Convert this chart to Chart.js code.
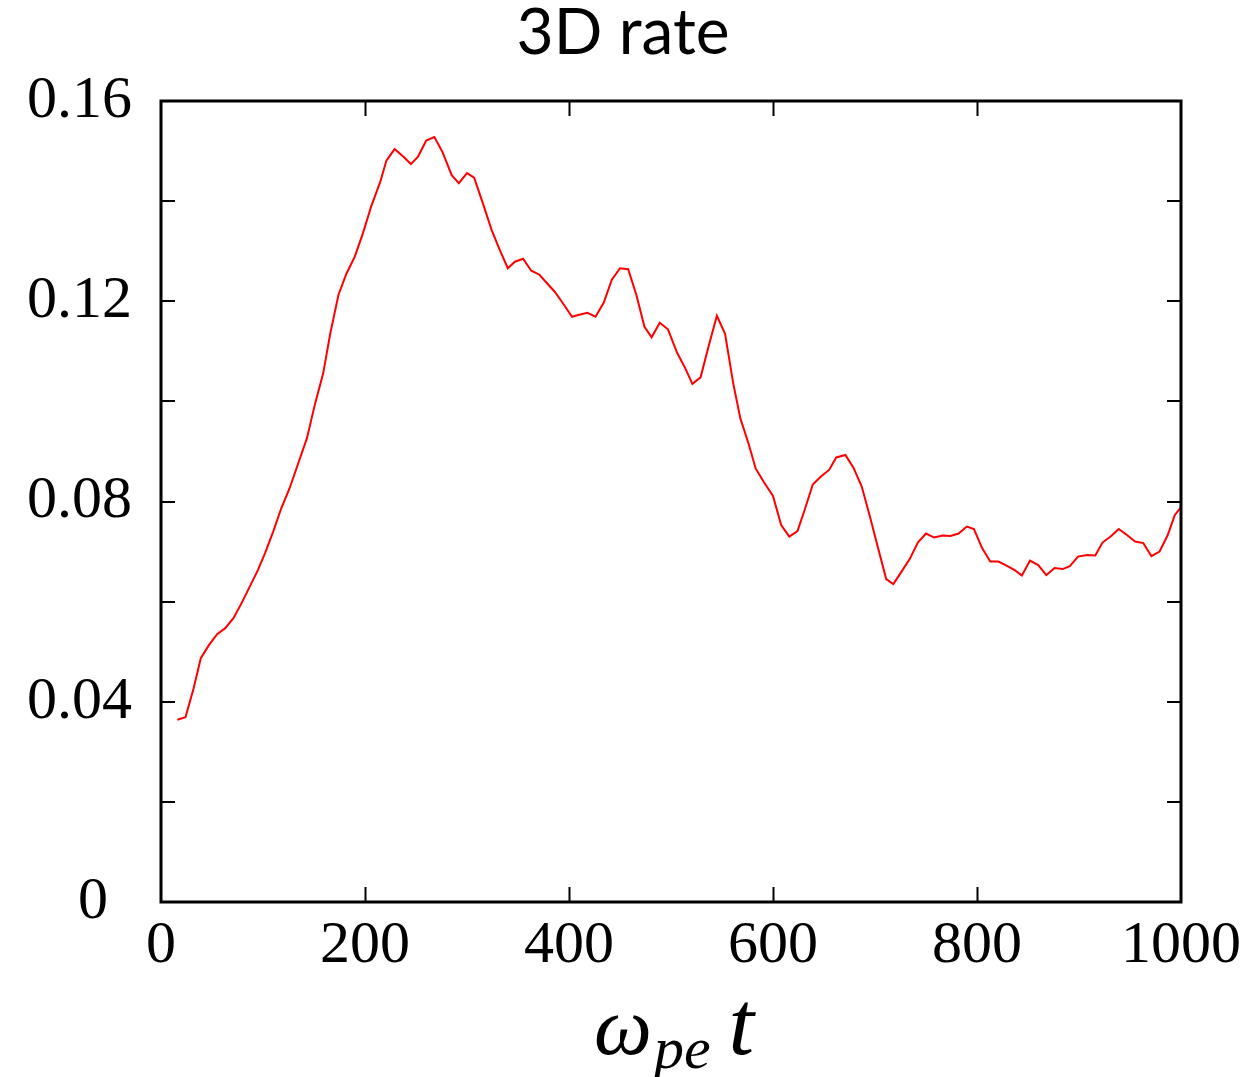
<!DOCTYPE html>
<html>
<head>
<meta charset="utf-8">
<title>3D rate</title>
<script src="https://cdn.jsdelivr.net/npm/chart.js@4.4.1/dist/chart.umd.min.js"></script>
<style>
  html, body { margin: 0; padding: 0; background: #fff; }
  #wrap { position: relative; width: 1255px; height: 1077px; overflow: hidden; }
  #rate-chart { position: absolute; left: 0; top: 0; }
  #chart-title {
    position: absolute; left: 0; top: -2px; width: 1246px; text-align: center;
    font-family: Lato, "Open Sans", sans-serif; font-size: 64px; line-height: 1;
    white-space: nowrap; color: #000;
  }
  #x-title {
    position: absolute; left: 594px; top: 977px;
    font-family: "Liberation Serif", "DejaVu Serif", serif;
    font-style: italic; font-size: 82px; line-height: 1;
    white-space: nowrap; color: #000;
  }
  #x-title .sub { font-size: 60px; position: relative; top: 14px; margin-left: 2px; }
  #x-title .t { font-size: 92px; margin-left: 18px; }
</style>
</head>
<body>
<div id="wrap">
  <canvas id="rate-chart" width="1255" height="1077"></canvas>
  <div id="chart-title">3D rate</div>
  <div id="x-title">ω<span class="sub">pe</span><span class="t">t</span></div>
</div>
<script>
// Values (time, rate)
const times = [
  16, 24, 32, 39, 47, 55, 63, 71, 79, 87, 95, 102, 110, 118, 126, 134, 143, 151,
  159, 166, 174, 182, 190, 198, 206, 215, 221, 229, 238, 245, 252, 260, 268, 276,
  285, 292, 300, 307, 316, 324, 332, 340, 347, 355, 363, 371, 378, 386, 394, 403,
  410, 418, 426, 434, 442, 450, 458, 466, 474, 481, 489, 497, 506, 514, 521, 529,
  537, 545, 553, 561, 568, 576, 583, 591, 600, 608, 616, 624, 631, 639, 647, 655,
  662, 671, 679, 687, 695, 703, 711, 718, 726, 734, 742, 750, 758, 766, 774, 782,
  790, 797, 805, 813, 821, 828, 837, 844, 852, 860, 868, 876, 884, 891, 899, 908,
  916, 923, 931, 939, 947, 955, 963, 971, 979, 987, 994, 1000
];
const rates = [
  0.0364, 0.0369, 0.0427, 0.0487, 0.0513, 0.0535, 0.0547, 0.0567, 0.0597, 0.0630,
  0.0663, 0.0697, 0.0740, 0.0787, 0.0826, 0.0873, 0.0926, 0.0995,
  0.1056, 0.1136, 0.1213, 0.1256, 0.1289, 0.1336, 0.1389, 0.1439, 0.1481, 0.1504,
  0.1488, 0.1474, 0.1489, 0.1521, 0.1528, 0.1498,
  0.1452, 0.1436, 0.1456, 0.1447, 0.1393, 0.1343, 0.1303, 0.1266, 0.1279, 0.1285,
  0.1261, 0.1253, 0.1237, 0.1219, 0.1196, 0.1169,
  0.1173, 0.1177, 0.1169, 0.1197, 0.1243, 0.1266, 0.1264, 0.1213, 0.1149, 0.1128,
  0.1157, 0.1144, 0.1097, 0.1066, 0.1035, 0.1048,
  0.1111, 0.1171, 0.1135, 0.1036, 0.0966, 0.0916, 0.0866, 0.0839, 0.0811, 0.0753,
  0.0730, 0.0741, 0.0783, 0.0834, 0.0850, 0.0863,
  0.0888, 0.0893, 0.0867, 0.0830, 0.0770, 0.0707, 0.0645, 0.0635, 0.0660, 0.0685,
  0.0718, 0.0736, 0.0728, 0.0732, 0.0731, 0.0736,
  0.0750, 0.0745, 0.0707, 0.0680, 0.0680, 0.0673, 0.0663, 0.0652, 0.0682, 0.0673,
  0.0653, 0.0667, 0.0665, 0.0671, 0.0690, 0.0693,
  0.0692, 0.0718, 0.0730, 0.0745, 0.0733, 0.0720, 0.0717, 0.0691, 0.0700, 0.0733,
  0.0773, 0.0789
];

// Axis ticks (the bottom "0" sits a little left of the others in the original)
const xTickLabels = ['0', '200', '400', '600', '800', '1000'];
const yTickLabels = ['0\u2009\u2009', '0.04', '0.08', '0.12', '0.16'];
const xInnerTicks = [200, 400, 600, 800];
const yInnerTicks = [0.02, 0.04, 0.06, 0.08, 0.10, 0.12, 0.14];

const TICK_FONT = { family: '"Liberation Serif", "Times New Roman", serif', size: 60 };

// Box frame with gnuplot-style inward ticks on all four sides
const frameTicks = {
  id: 'frameTicks',
  afterDraw(chart) {
    const { ctx, chartArea: a, scales: { x, y } } = chart;
    ctx.save();
    ctx.strokeStyle = '#000';
    ctx.lineWidth = 2;
    ctx.beginPath();
    xInnerTicks.forEach(v => {
      const px = Math.round(x.getPixelForValue(v)) + 0.5;
      ctx.moveTo(px, a.bottom); ctx.lineTo(px, a.bottom - 15);
      ctx.moveTo(px, a.top);    ctx.lineTo(px, a.top + 15);
    });
    yInnerTicks.forEach(v => {
      const py = Math.round(y.getPixelForValue(v));
      ctx.moveTo(a.left, py);  ctx.lineTo(a.left + 14, py);
      ctx.moveTo(a.right, py); ctx.lineTo(a.right - 14, py);
    });
    ctx.stroke();
    ctx.lineWidth = 3;
    ctx.strokeRect(a.left, a.top, a.right - a.left, a.bottom - a.top);
    ctx.restore();
  }
};

const ctx = document.getElementById('rate-chart').getContext('2d');
new Chart(ctx, {
  type: 'line',
  data: {
    datasets: [{
      label: '3D rate',
      data: times.map((t, i) => ({ x: t, y: rates[i] })),
      borderColor: 'rgb(255, 0, 0)',
      borderWidth: 2,
      pointRadius: 0,
      tension: 0,
      fill: false
    }]
  },
  options: {
    responsive: false,
    animation: false,
    devicePixelRatio: 1,
    layout: { padding: { left: 0, right: 74, top: 101, bottom: 0 } },
    plugins: {
      legend: { display: false },
      tooltip: { enabled: false },
      title: { display: false }
    },
    scales: {
      x: {
        type: 'linear', min: 0, max: 1000,
        grid: { display: false, drawTicks: false },
        border: { display: false },
        ticks: {
          stepSize: 200, padding: 8, color: '#000', font: TICK_FONT,
          maxRotation: 0, autoSkip: false,
          callback: (v, i) => xTickLabels[i]
        },
        afterFit: s => { s.height = 175; }
      },
      y: {
        type: 'linear', min: 0, max: 0.16,
        grid: { display: false, drawTicks: false },
        border: { display: false },
        ticks: {
          stepSize: 0.04, padding: 29, color: '#000', font: TICK_FONT,
          autoSkip: false,
          callback: (v, i) => yTickLabels[i]
        },
        afterFit: s => { s.width = 161; }
      }
    }
  },
  plugins: [frameTicks]
});
</script>
</body>
</html>
